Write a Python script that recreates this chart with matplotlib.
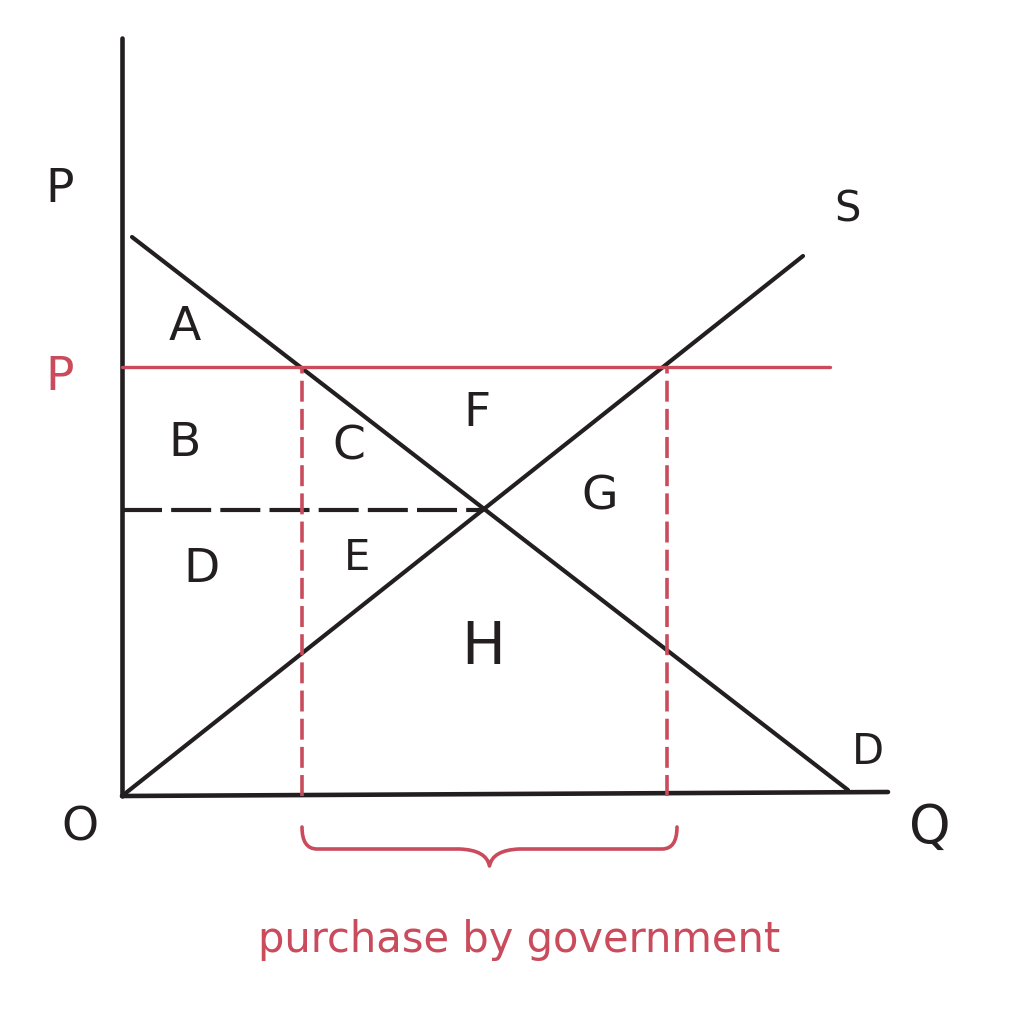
import numpy as np
import matplotlib.pyplot as plt
from matplotlib.path import Path
from matplotlib.patches import PathPatch

# data (units: quantity / price, origin at O)
demand_q = [0.10, 7.26]
demand_p = [5.59, 0.06]
supply_q = [0.00, 6.81]
supply_p = [0.00, 5.40]
floor_price = 4.29
floor_end_q = 7.08
eq_q = 3.62
eq_p = 2.86
qd_floor = 1.80
qs_floor = 5.45

axis_q_max = 7.66
axis_p_max = 7.58

area_labels = ['A', 'B', 'C', 'D', 'E', 'F', 'G', 'H']
area_q = [0.63, 0.63, 2.27, 0.80, 2.35, 3.55, 4.78, 3.61]
area_p = [4.68, 3.53, 3.49, 2.26, 2.38, 3.83, 2.99, 1.48]
area_size = [34, 34, 34, 34, 30, 34, 34, 42]

black = '#231f20'
red = '#c94b5c'

fig = plt.figure(figsize=(10.15, 10.17), dpi=100)
ax = fig.add_axes([0, 0, 1, 1])
ax.set_xlim(-1.22, 8.93)
ax.set_ylim(-2.21, 7.96)
ax.axis('off')

# axes lines
ax.plot([0, 0], [0, axis_p_max], color=black, lw=3.3, solid_capstyle='round')
ax.plot([0, axis_q_max], [0, 0.04], color=black, lw=3.3, solid_capstyle='round')

# supply and demand
ax.plot(demand_q, demand_p, color=black, lw=3.0, solid_capstyle='round')
ax.plot(supply_q, supply_p, color=black, lw=3.0, solid_capstyle='round')

# equilibrium price dashed
ax.plot([0, eq_q], [eq_p, eq_p], color=black, lw=3.0, dashes=(9.6, 2.2))

# price floor
ax.plot([0, floor_end_q], [floor_price, floor_price], color=red, lw=2.4,
        solid_capstyle='round')

# dashed verticals
for q in [qd_floor, qs_floor]:
    ax.plot([q, q], [0, floor_price], color=red, lw=2.6, dashes=(5.8, 2.0))

# brace under the purchase range
left, right = qd_floor, qs_floor + 0.1
mid = (left + right) / 2
top, base, tip = -0.31, -0.53, -0.70
verts = [(left, top),
         (left, base), (left + 0.15, base),
         (mid - 0.3, base),
         (mid - 0.03, base - 0.01), (mid, tip),
         (mid + 0.03, base - 0.01), (mid + 0.3, base),
         (right - 0.15, base),
         (right, base), (right, top)]
codes = [Path.MOVETO,
         Path.CURVE3, Path.CURVE3,
         Path.LINETO,
         Path.CURVE3, Path.CURVE3,
         Path.CURVE3, Path.CURVE3,
         Path.LINETO,
         Path.CURVE3, Path.CURVE3]
ax.add_patch(PathPatch(Path(verts, codes), fill=False, edgecolor=red, lw=2.6,
                       capstyle='round', joinstyle='round'))

ax.text(mid + 0.3, -1.44, 'purchase by government', color=red, fontsize=30,
        ha='center', va='center')

# axis labels
ax.text(-0.62, 6.06, 'P', color=black, fontsize=34, ha='center', va='center')
ax.text(-0.62, 4.18, 'P', color=red, fontsize=34, ha='center', va='center')
ax.text(-0.42, -0.32, 'O', color=black, fontsize=34, ha='center', va='center')
ax.text(8.08, -0.32, 'Q', color=black, fontsize=38, ha='center', va='center')
ax.text(7.26, 5.86, 'S', color=black, fontsize=30, ha='center', va='center')
ax.text(7.46, 0.44, 'D', color=black, fontsize=30, ha='center', va='center')

for lab, q, p, s in zip(area_labels, area_q, area_p, area_size):
    ax.text(q, p, lab, color=black, fontsize=s, ha='center', va='center')

fig.savefig('out.png', dpi=100, facecolor='white')
